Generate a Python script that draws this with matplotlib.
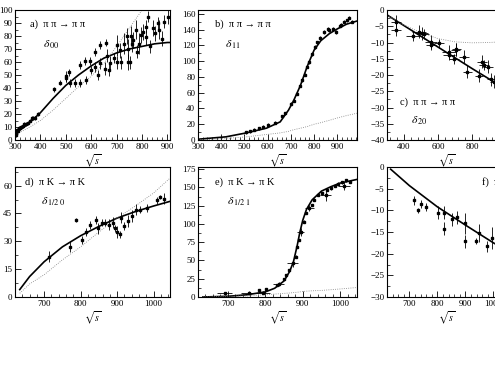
import matplotlib
matplotlib.use('Agg')
import matplotlib.pyplot as plt
from matplotlib.ticker import MultipleLocator, AutoMinorLocator

plt.rcParams['font.family'] = ['Liberation Serif', 'DejaVu Serif']
plt.rcParams['mathtext.fontset'] = 'stix'
plt.rcParams['font.size'] = 7

# ---- a) pi pi -> pi pi, delta 00
a_s = [302,305,308,312,316,320,325,330,336,342,350,358,365,372,380,390,
       453,479,499,501,512,518,538,557,557,577,579,596,599,615,615,625,635,635,655,659,
       661,668,674,688,701,701,714,717,727,740,744,745,752,758,762,765,778,781,788,797,
       804,817,817,823,830,843,849,862,866,879,888,901]
a_d = [4,6,8,7,9,9,10,11,12,12,13,15,17,17,17,20,
       39,44,48,49,52,44,44,58,44,61,46,61,54,68,56,50,73,59,55,75,
       65,54,59,63,73,60,69,60,74,80,70,60,60,80,74,77,85,68,74,81,
       83,87,79,95,72,86,82,90,85,78,91,95]
a_e = [1.5]*16 + [2,2,3,4,3,3,3,3,3,3, 3,3,3,3,4,4,3,4,5,3,
                  5,5,6,4,8,5,6,5,8,6, 8,6,5,8,6,6,7,5,8,6,
                  6,5,6,4,5,6,6,5,7,6, 5,6]
a_cs = [300,350,400,450,500,550,600,650,700,750,800,850,900,910]
a_solid = [5,12,21,32,42,50,57,63,67,70,72,74,75,75]
a_dot = [4,9,15,23,32,41,49,59,72,86,100,114,128,130]

# ---- b) pi pi -> pi pi, delta 11
b_s = [505,522,541,562,581,603,632,661,675,700,712,726,738,749,759,770,777,792,803,814,
       826,844,858,866,880,896,910,918,930,940,952,962]
b_d = [10,11,13,15,17,19,22,30,34,46,50,59,69,76,83,93,99,109,118,124,
       130,137,141,139,141,137,145,146,150,152,155,150]
b_cs = [300,420,508,595,654,690,712,741,770,800,829,866,900,940,985]
b_solid = [1,4,9,15,23,38,50,69,93,114,126,135,141,147,151]
b_dot = [0,2,4,7,9,11,13,15,17,20,22,25,28,31,34]

# ---- c) pi pi -> pi pi, delta 20
c_s = [351,351,453,488,504,518,557,557,606,665,665,694,704,708,753,773,841,861,871,894,914,929]
c_d = [-3.6,-6,-8,-6.7,-7.2,-7.4,-9.7,-10.8,-10.3,-12.8,-13.8,-15,-12.3,-12,-14.4,-19,
       -20.3,-15.9,-16.9,-17.4,-21.3,-22]
c_xe = [30,30,40,40,35,30,35,30,30,40,35,30,25,25,30,25,25,30,30,30,25,25]
c_ye = [2,2,1.5,2,2,1.5,2,1.5,1.5,2,1.5,1.5,2,2,2,2,2,2,1.5,2,2,2]
c_cs = [300,400,500,600,700,800,900,1000]
c_solid = [-1.5,-4.8,-8.1,-11.4,-14.7,-18.0,-21.2,-24.4]
c_dot = [-1.5,-4.6,-7.0,-8.8,-9.8,-10.1,-10.0,-9.7]

# ---- d) pi K -> pi K, delta 1/2 0
d_s = [714,771,786,803,816,827,841,848,859,868,877,889,895,900,909,911,920,931,940,951,963,981,1008,1017,1028]
d_d = [21.6,27,41.4,30.6,35,38.7,41.4,36.9,40,40,39,40,37,35,33.7,42.7,38.2,40.9,43.6,47,47,48,52,54,53]
d_e = [3,3,1,2,2,2,2,3,2,2,3,3,2,3,2,3,2,3,3,3,2,2,2,1,3]
d_cs = [633,660,700,750,800,850,900,950,1000,1045]
d_solid = [4,11,19,27,33,38,42.5,46,49,51.5]
d_dot = [2,7,12,20,27,35,42.5,49,56,64]

# ---- e) pi K -> pi K, delta 1/2 1
e_s = [691,756,784,793,803,831,836,850,855,864,873,882,885,889,894,904,910,917,924,931,
       942,952,961,966,975,985,995,1005,1010,1015,1025]
e_d = [5,6,9,6,11,16,18,25,30,37,46,55,69,78,89,103,115,122,126,133,
       140,142,140,147,149,152,155,157,152,160,158]
e_xe = [20,20,0,20,0,0,15,0,0,0,15,0,0,0,10,0,0,12,0,0,0,0,15,0,0,0,0,0,15,0,0]
e_ye = [2,2,1,2,1,1,3,1,2,2,5,2,2,2,5,2,2,4,2,2,2,2,8,2,2,2,2,2,6,2,2]
e_cs = [633,700,750,800,825,850,865,875,885,892,900,910,925,950,975,1000,1045]
e_solid = [0,1,3,7,12,22,35,48,70,88,105,120,133,145,151,156,161]
e_dot = [0,1,1.5,3,4,5,5.5,6,6.5,7,7.5,8,8.5,9,10,11,13]

# ---- f) pi K -> pi K, delta 3/2 0
f_s = [718,730,742,760,802,822,824,851,871,900,900,939,948,976,996,1020]
f_d = [-7.7,-10,-8.5,-9.2,-10.6,-10.6,-14.3,-12,-11.6,-13,-17.1,-17.1,-15.2,-18.3,-16.4,-18.6]
f_e = [1,0.5,1,1,1.5,1.5,1.5,1.5,1.5,2.5,1.5,0.7,2,1.2,2.5,1.5]
f_cs = [633,700,800,900,1000,1045]
f_solid = [-0.5,-4.3,-9.2,-13.4,-17.5,-19.2]

W, H = 495, 383
fig = plt.figure(figsize=(W/100, H/100), dpi=100)

def mkax(l, r, top, bot):
    return fig.add_axes([l/W, 1-bot/H, (r-l)/W, (bot-top)/H])

axa = mkax(15, 170, 10, 140)
axb = mkax(198, 357, 10, 140)
axc = mkax(387, 506, 10, 140)
axd = mkax(15, 170, 167, 297)
axe = mkax(198, 357, 167, 297)
axf = mkax(387, 506, 167, 297)

pt = dict(fmt='s', color='black', ms=1.8, elinewidth=0.6, capsize=0)

axa.plot(a_cs, a_solid, color='black', lw=1.2)
axa.plot(a_cs, a_dot, color='gray', lw=0.6, ls=':')
axa.errorbar(a_s, a_d, yerr=a_e, **pt)
axa.set_xlim(300, 910); axa.set_ylim(0, 100)
axa.xaxis.set_major_locator(MultipleLocator(100)); axa.yaxis.set_major_locator(MultipleLocator(10))

axb.plot(b_cs, b_solid, color='black', lw=1.2)
axb.plot(b_cs, b_dot, color='gray', lw=0.6, ls=':')
axb.errorbar(b_s, b_d, yerr=2, **pt)
axb.set_xlim(300, 985); axb.set_ylim(0, 165)
axb.xaxis.set_major_locator(MultipleLocator(100)); axb.yaxis.set_major_locator(MultipleLocator(20))

axc.plot(c_cs, c_solid, color='black', lw=1.2)
axc.plot(c_cs, c_dot, color='gray', lw=0.6, ls=':')
axc.errorbar(c_s, c_d, xerr=c_xe, yerr=c_ye, **pt)
axc.set_xlim(300, 1000); axc.set_ylim(-40, 0)
axc.xaxis.set_major_locator(MultipleLocator(200)); axc.yaxis.set_major_locator(MultipleLocator(5))

axd.plot(d_cs, d_solid, color='black', lw=1.2)
axd.plot(d_cs, d_dot, color='gray', lw=0.6, ls=':')
axd.errorbar(d_s, d_d, yerr=d_e, **pt)
axd.set_xlim(620, 1045); axd.set_ylim(0, 70)
axd.xaxis.set_major_locator(MultipleLocator(100)); axd.yaxis.set_major_locator(MultipleLocator(15))

axe.plot(e_cs, e_solid, color='black', lw=1.2)
axe.plot(e_cs, e_dot, color='gray', lw=0.6, ls=':')
axe.errorbar(e_s, e_d, xerr=e_xe, yerr=e_ye, **pt)
axe.set_xlim(620, 1045); axe.set_ylim(0, 178)
axe.xaxis.set_major_locator(MultipleLocator(100)); axe.yaxis.set_major_locator(MultipleLocator(25))

axf.plot(f_cs, f_solid, color='black', lw=1.2)
axf.errorbar(f_s, f_d, yerr=f_e, **pt)
axf.set_xlim(620, 1045); axf.set_ylim(-30, 0)
axf.xaxis.set_major_locator(MultipleLocator(100)); axf.yaxis.set_major_locator(MultipleLocator(5))

for ax in [axa, axb, axc, axd, axe, axf]:
    ax.xaxis.set_minor_locator(AutoMinorLocator(5))
    ax.yaxis.set_minor_locator(AutoMinorLocator(2))
    ax.tick_params(which='both', direction='in', top=False, right=False, labelsize=6.5, pad=2)
    ax.tick_params(which='major', length=4, width=0.6)
    ax.tick_params(which='minor', length=2, width=0.5)
    for sp in ax.spines.values():
        sp.set_linewidth(0.8)
    ax.set_xlabel(r'$\sqrt{s}$', fontsize=7, labelpad=1)

tk = dict(fontsize=7.5)
axa.text(0.1, 0.87, 'a)  π π → π π', transform=axa.transAxes, **tk)
axa.text(0.18, 0.71, r'$\delta_{\,00}$', transform=axa.transAxes, fontsize=8.5)
axb.text(0.11, 0.87, 'b)  π π → π π', transform=axb.transAxes, **tk)
axb.text(0.17, 0.71, r'$\delta_{\,11}$', transform=axb.transAxes, fontsize=8.5)
axc.text(0.11, 0.27, 'c)  π π → π π', transform=axc.transAxes, **tk)
axc.text(0.2, 0.13, r'$\delta_{\,20}$', transform=axc.transAxes, fontsize=8.5)
axd.text(0.065, 0.86, 'd)  π K → π K', transform=axd.transAxes, **tk)
axd.text(0.17, 0.71, r'$\delta_{\,1/2\;0}$', transform=axd.transAxes, fontsize=8.5)
axe.text(0.11, 0.86, 'e)  π K → π K', transform=axe.transAxes, **tk)
axe.text(0.18, 0.71, r'$\delta_{\,1/2\;1}$', transform=axe.transAxes, fontsize=8.5)
axf.text(0.8, 0.86, 'f)  π K → π K', transform=axf.transAxes, **tk)

fig.savefig('out.png', dpi=100)
